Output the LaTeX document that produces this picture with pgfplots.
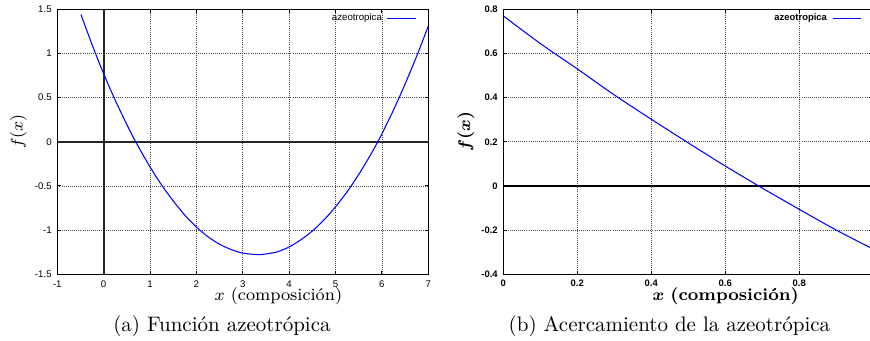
\documentclass[border=0pt]{standalone}
\usepackage{fontspec}
\usepackage{bm}
\usepackage{pgfplots}
\pgfplotsset{compat=1.18}
\newfontfamily\ticksf{Liberation Sans}
\definecolor{gpblue}{RGB}{0,0,255}
\newcommand{\tickfont}{\ticksf\fontsize{4.6}{5}\selectfont}
\newcommand{\tickfontb}{\ticksf\bfseries\fontsize{4.5}{5}\selectfont}
\newcommand{\labelfont}{\fontsize{8.2}{10}\selectfont}
\newcommand{\boldxlabel}{$\bm{x}$ \textbf{(composición)}}
\newcommand{\boldylabel}{$\bm{f(x)}$}

% f(x) over the whole range
\pgfplotstableread{
x      y
-0.49  1.44
-0.25  1.10
0.00   0.77
0.25   0.47
0.50   0.195
0.69   0.00
1.00  -0.285
1.25  -0.49
1.50  -0.67
1.75  -0.83
2.00  -0.965
2.25  -1.075
2.50  -1.16
2.75  -1.22
3.00  -1.26
3.32  -1.278
3.50  -1.27
3.75  -1.245
4.00  -1.19
4.25  -1.11
4.50  -1.01
4.75  -0.885
5.00  -0.735
5.25  -0.565
5.50  -0.37
5.75  -0.152
5.91   0.00
6.00   0.09
6.25   0.36
6.50   0.655
6.75   0.97
7.00   1.31
}\fulldata

% close-up near the root
\pgfplotstableread{
x     y
0.00  0.77
0.10  0.645
0.20  0.53
0.30  0.412
0.40  0.302
0.50  0.195
0.60  0.09
0.69  0.00
0.70 -0.01
0.80 -0.106
0.90 -0.20
1.00 -0.286
}\zoomdata

\pgfplotsset{
  gpstyle/.style={
    scale only axis,
    axis line style={black, line width=0.5pt},
    tick align=inside,
    major tick length=1.8pt,
    tick style={black, line width=0.5pt},
    xmajorgrids, ymajorgrids,
    grid style={black!70, line width=0.4pt, dash pattern=on 0.45pt off 0.55pt},
    tick label style={inner sep=0pt},
    xticklabel shift=2.7pt,
    yticklabel shift=2.5pt,
    legend plot pos=right,
    legend cell align=right,
    legend image code/.code={\draw[##1] (0pt,0pt) -- (13.8pt,0pt);},
    legend style={draw=none, fill=none, anchor=east, inner sep=0pt, outer sep=0pt,
      nodes={inner sep=0pt}, column sep=2.4pt},
  },
}

\begin{document}
\begin{tikzpicture}
\path[use as bounding box] (0,0) rectangle (414.29pt,162.38pt);

\begin{axis}[gpstyle,
  at={(27.29pt,31.76pt)}, anchor=south west,
  width=176.67pt, height=126.19pt,
  xmin=-1, xmax=7, ymin=-1.5, ymax=1.5,
  xtick={-1,0,...,7},
  xticklabels={-1,0,1,2,3,4,5,6,7},
  ytick={-1.5,-1,...,1.5},
  yticklabels={-1.5,-1,-0.5,0,0.5,1,1.5},
  tick label style={font=\tickfont},
  legend style={at={(axis description cs:0.9695,0.966)}, font=\tickfont},
  xlabel={$x$ (composición)},
  xlabel style={at={(axis description cs:0.596,0)}, anchor=base, yshift=-12.6pt, font=\labelfont},
  ylabel={$f(x)$},
  ylabel style={at={(axis description cs:-0.1046,0.539)}, anchor=center, font=\labelfont},
]
% zero axes
\draw[black!85, line width=0.75pt] (axis cs:-1,0) -- (axis cs:7,0);
\draw[black!85, line width=0.8pt] (axis cs:0,-1.5) -- (axis cs:0,1.5);
\addplot[gpblue, line width=0.5pt, smooth] table[x=x, y=y] {\fulldata};
\addlegendentry{azeotropica}
\end{axis}

\begin{axis}[gpstyle,
  at={(239.67pt,31.76pt)}, anchor=south west,
  width=176.19pt, height=126.19pt,
  xmin=0, xmax=1, ymin=-0.4, ymax=0.8,
  xtick={0,0.2,0.4,0.6,0.8},
  xticklabels={0,0.2,0.4,0.6,0.8},
  ytick={-0.4,-0.2,0,0.2,0.4,0.6,0.8},
  yticklabels={-0.4,-0.2,0,0.2,0.4,0.6,0.8},
  tick label style={font=\tickfontb},
  legend style={at={(axis description cs:0.9695,0.964)}, font=\tickfontb},
  xlabel={\boldxlabel},
  xlabel style={at={(axis description cs:0.601,0)}, anchor=base, yshift=-12.6pt, font=\labelfont},
  ylabel={\boldylabel},
  ylabel style={at={(axis description cs:-0.1008,0.539)}, anchor=center, font=\labelfont},
]
\draw[black, line width=0.7pt] (axis cs:0,0) -- (axis cs:1,0);
\addplot[gpblue, line width=0.5pt, smooth] table[x=x, y=y] {\zoomdata};
\addlegendentry{azeotropica}
\end{axis}

\node[anchor=base] at (105.7pt,4.4pt) {(a) Función azeotrópica};
\node[anchor=base] at (318.8pt,4.4pt) {(b) Acercamiento de la azeotrópica};
\end{tikzpicture}
\end{document}
